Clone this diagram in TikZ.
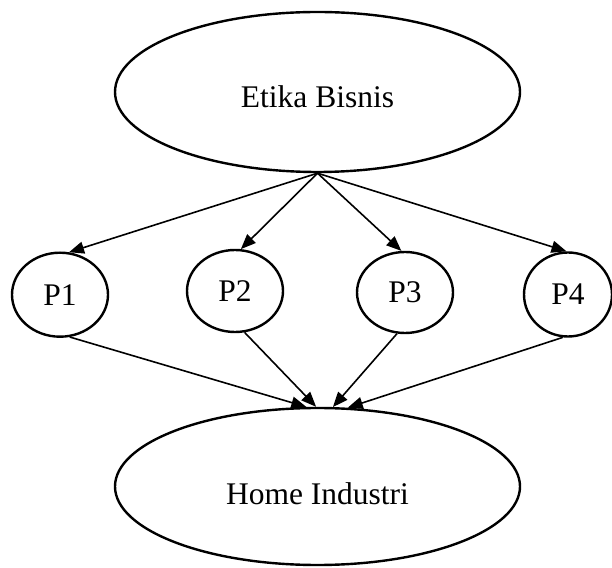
\documentclass[tikz,border=0pt]{standalone}
\usepackage{fontspec}
\setmainfont{Liberation Serif}
\usetikzlibrary{shapes.geometric,arrows.meta}
\begin{document}
\begin{tikzpicture}[x=1pt,y=1pt,
  oval/.style={draw,ellipse,line width=2.4pt,inner sep=0pt,
    font=\fontsize{31.5}{36}\selectfont},
  conn/.style={line width=1.6pt,-{Triangle[length=15pt,width=12pt]}}]
\useasboundingbox (0,0) rectangle (612,567);
\node[oval,minimum width=405pt,minimum height=160pt,text height=32pt,text depth=0pt] (etika) at (317.5,475) {Etika Bisnis};
\node[oval,minimum width=405pt,minimum height=157pt,text height=35pt,text depth=0pt] (home) at (317.5,80.5) {Home Industri};
\node[oval,minimum width=96pt,minimum height=84pt] (p1) at (60,272.3) {P1};
\node[oval,minimum width=96pt,minimum height=82pt] (p2) at (235,276) {P2};
\node[oval,minimum width=96pt,minimum height=81pt] (p3) at (405,274.5) {P3};
\node[oval,minimum width=88pt,minimum height=84pt] (p4) at (568,272.5) {P4};
\draw[conn] (etika.south) -- (p1.78);
\draw[conn] (etika.south) -- (p2.82);
\draw[conn] (etika.south) -- (p3.95);
\draw[conn] (etika.south) -- (p4.92);
\draw[conn] (p1.283) -- (home.98.7);
\draw[conn] (p2.283) -- (home.91.8);
\draw[conn] (p3.259) -- (home.79.4);
\draw[conn] (p4.263) -- (home.69.5);
\end{tikzpicture}
\end{document}
